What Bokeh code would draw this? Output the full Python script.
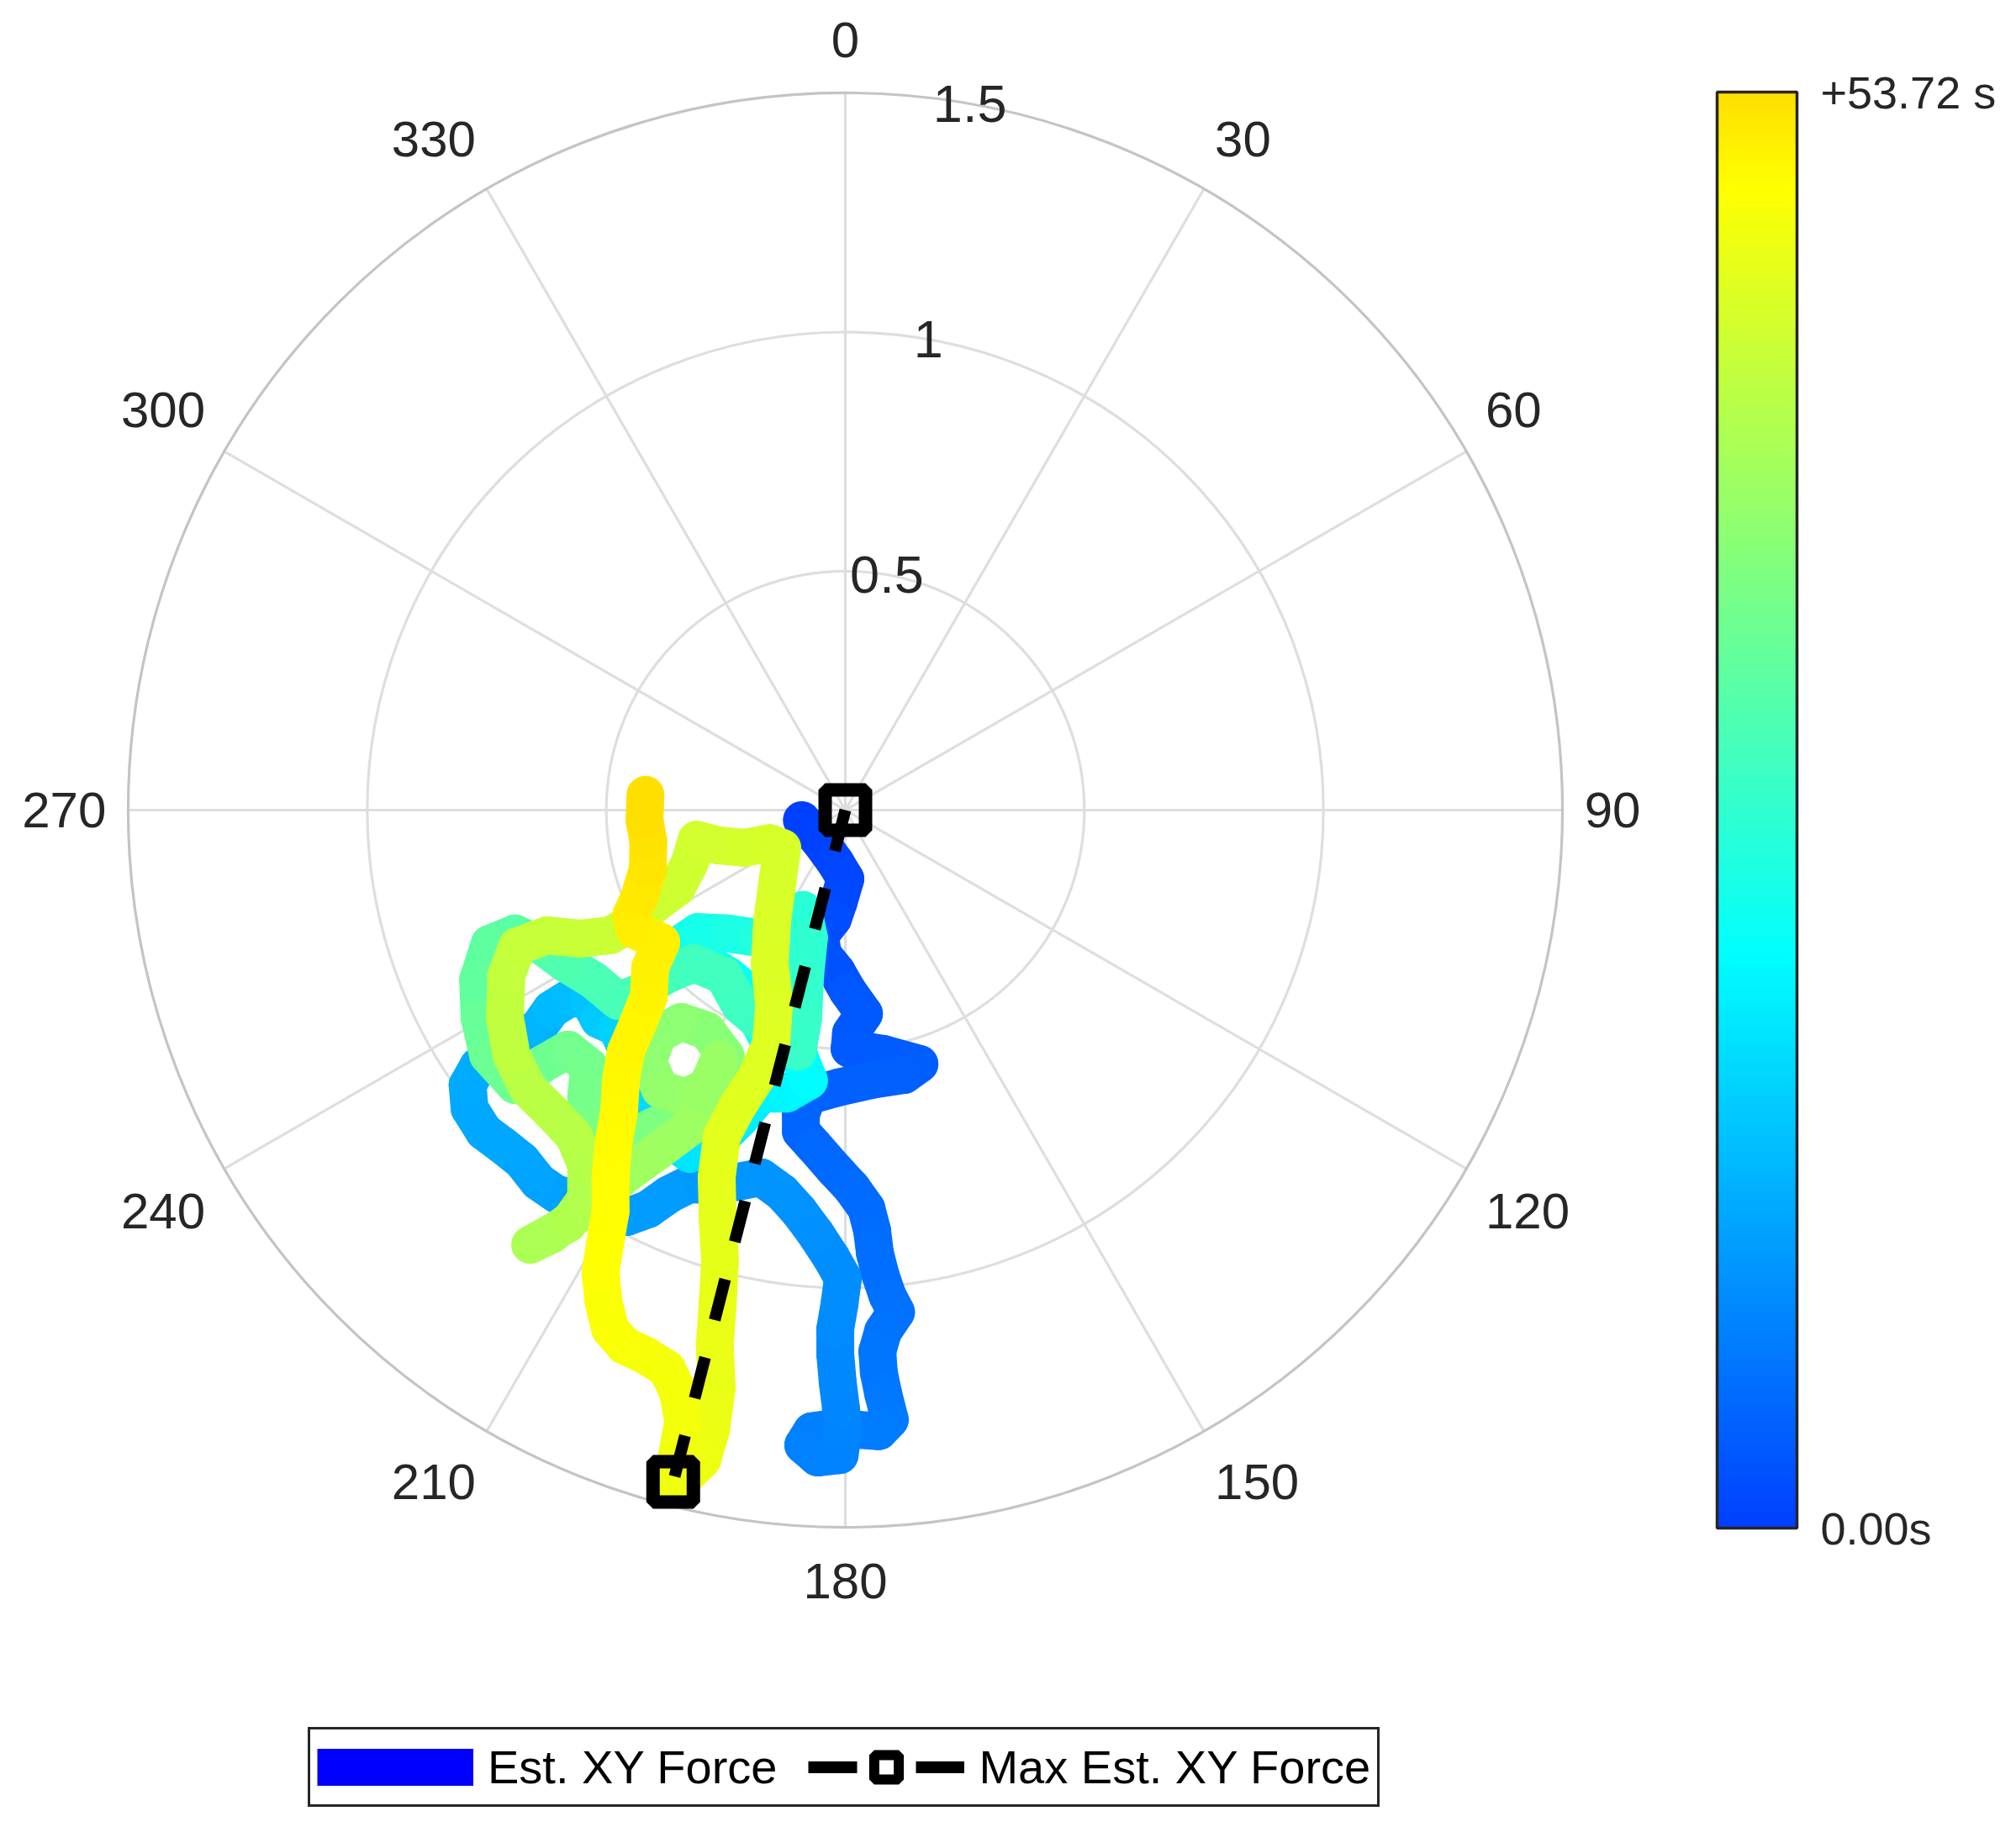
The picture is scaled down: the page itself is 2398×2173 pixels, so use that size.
import numpy as np
from bokeh.plotting import figure
from bokeh.models import (ColumnDataSource, LinearColorMapper, ColorBar, FixedTicker,
                          Legend, LegendItem, Range1d)
from bokeh.transform import linear_cmap
from bokeh.embed import file_html
from bokeh.resources import INLINE
from bokeh.core.properties import value

# ---------------- data ----------------
T_END = 53.72  # seconds

# elapsed fraction of the recording for each sample
time_frac = [
    0.000, 0.005, 0.010, 0.015, 0.020, 0.025, 0.030, 0.035, 0.040, 0.045,
    0.050, 0.053, 0.056, 0.060, 0.063, 0.066, 0.070, 0.072, 0.075, 0.078,
    0.080, 0.083, 0.086, 0.089, 0.092, 0.095, 0.098, 0.100, 0.103, 0.106,
    0.109, 0.112, 0.115, 0.118, 0.121, 0.124, 0.127, 0.130, 0.133, 0.136,
    0.139, 0.142,
    0.145, 0.148, 0.151, 0.154, 0.157, 0.160, 0.163, 0.166, 0.169, 0.172,
    0.175, 0.178, 0.181, 0.184, 0.187, 0.190, 0.193, 0.196, 0.199, 0.202,
    0.205, 0.208, 0.211, 0.214, 0.217, 0.220, 0.223, 0.226, 0.229, 0.232,
    0.240, 0.250, 0.260, 0.270, 0.280,
    0.300, 0.310, 0.320, 0.330, 0.340, 0.350, 0.360, 0.370, 0.380, 0.390,
    0.400, 0.405, 0.410, 0.415, 0.420, 0.425, 0.430,
    0.440, 0.450, 0.460, 0.470, 0.480, 0.490, 0.500, 0.510, 0.515, 0.520,
    0.525, 0.530, 0.535,
    0.540, 0.545, 0.550, 0.555, 0.560, 0.570, 0.580, 0.590, 0.600, 0.610,
    0.620, 0.625, 0.630, 0.635, 0.640, 0.645, 0.650, 0.655, 0.660,
    0.665, 0.670, 0.675, 0.680, 0.685, 0.690, 0.695, 0.700, 0.705, 0.710,
    0.715, 0.720,
    0.725, 0.730, 0.735, 0.740, 0.745, 0.750, 0.755, 0.765, 0.770, 0.775,
    0.780, 0.785, 0.790, 0.795, 0.800, 0.805, 0.810, 0.813, 0.816, 0.820,
    0.823, 0.826, 0.829, 0.832, 0.835, 0.838, 0.841, 0.844, 0.847, 0.850,
    0.853, 0.856, 0.859, 0.862, 0.865, 0.868, 0.871, 0.874, 0.877, 0.880,
    0.883, 0.886, 0.889, 0.892, 0.895, 0.898, 0.900,
    0.903, 0.906, 0.909, 0.912, 0.915, 0.918, 0.921, 0.924, 0.927, 0.930,
    0.933, 0.936, 0.939, 0.942, 0.945, 0.948, 0.951, 0.954, 0.957, 0.960,
    0.965, 0.970, 0.975, 0.982, 0.988, 0.994, 1.000,
]

# estimated XY force, east component (x) and north component (y)
force_x = [
    -0.091, -0.053, -0.021, 0.000, -0.014, -0.026, -0.053, -0.047, -0.018, 0.005,
    0.039, 0.012, 0.009, 0.079, 0.155, 0.123, 0.056, -0.014, -0.079, -0.093,
    -0.093, -0.065, -0.023, 0.014, 0.044, 0.056, 0.062, 0.074, 0.088, 0.106,
    0.079, 0.067, 0.070, 0.079, 0.093, 0.070, 0.026, -0.021, -0.070, -0.088,
    -0.058, -0.012,
    -0.004, -0.009, -0.016, -0.021, -0.021, -0.012, -0.005, -0.030, -0.062, -0.097,
    -0.132, -0.176, -0.223, -0.273, -0.325, -0.369, -0.413, -0.457, -0.505, -0.554,
    -0.603, -0.642, -0.677, -0.716, -0.756, -0.786, -0.790, -0.768, -0.726, -0.681,
    -0.642, -0.615, -0.575, -0.536, -0.515,
    -0.478, -0.440, -0.413, -0.378, -0.325, -0.273, -0.220, -0.176, -0.123, -0.076,
    -0.097, -0.158, -0.185, -0.202, -0.246, -0.308, -0.360,
    -0.308, -0.246, -0.185, -0.123, -0.088, -0.076, -0.084, -0.088, -0.100, -0.158,
    -0.220, -0.255, -0.317,
    -0.378, -0.431, -0.475, -0.528, -0.586, -0.633, -0.691, -0.744, -0.768, -0.765,
    -0.747, -0.691, -0.633, -0.580, -0.536, -0.542, -0.528, -0.466, -0.404,
    -0.343, -0.273, -0.237, -0.251, -0.290, -0.343, -0.392, -0.413, -0.387, -0.334,
    -0.281, -0.264,
    -0.325, -0.396, -0.457, -0.510, -0.563, -0.615, -0.659, -0.580, -0.542, -0.542,
    -0.568, -0.615, -0.663, -0.698, -0.712, -0.709, -0.686, -0.624, -0.554, -0.492,
    -0.448, -0.399, -0.352, -0.325, -0.311, -0.264, -0.211, -0.158, -0.132, -0.141,
    -0.153, -0.158, -0.149, -0.155, -0.185, -0.225, -0.258, -0.269, -0.267, -0.262,
    -0.267, -0.273, -0.269, -0.281, -0.299, -0.334, -0.360,
    -0.350, -0.339, -0.350, -0.373, -0.417, -0.462, -0.492, -0.506, -0.512, -0.503,
    -0.491, -0.491, -0.485, -0.473, -0.469, -0.459, -0.434, -0.411, -0.408, -0.385,
    -0.440, -0.448, -0.431, -0.413, -0.412, -0.420, -0.418,
]

force_y = [
    -0.021, -0.065, -0.109, -0.144, -0.192, -0.227, -0.262, -0.302, -0.338, -0.378,
    -0.426, -0.466, -0.499, -0.510, -0.531, -0.554, -0.564, -0.580, -0.598, -0.637,
    -0.672, -0.703, -0.751, -0.791, -0.833, -0.879, -0.927, -0.974, -1.015, -1.050,
    -1.090, -1.132, -1.176, -1.220, -1.275, -1.299, -1.296, -1.292, -1.299, -1.328,
    -1.354, -1.349,
    -1.296, -1.252, -1.196, -1.138, -1.085, -1.032, -0.979, -0.935, -0.886, -0.839,
    -0.800, -0.768, -0.777, -0.786, -0.782, -0.804, -0.835, -0.851, -0.839, -0.812,
    -0.804, -0.777, -0.733, -0.702, -0.672, -0.624, -0.575, -0.536, -0.508, -0.478,
    -0.455, -0.417, -0.392, -0.399, -0.438,
    -0.455, -0.540, -0.628, -0.681, -0.719, -0.698, -0.645, -0.593, -0.593, -0.566,
    -0.513, -0.487, -0.434, -0.382, -0.346, -0.308, -0.290,
    -0.255, -0.258, -0.267, -0.250, -0.209, -0.267, -0.346, -0.434, -0.505, -0.461,
    -0.408, -0.346, -0.320,
    -0.346, -0.382, -0.399, -0.355, -0.320, -0.285, -0.258, -0.280, -0.355, -0.434,
    -0.513, -0.575, -0.531, -0.501, -0.536, -0.601, -0.663, -0.698, -0.663,
    -0.637, -0.628, -0.575, -0.513, -0.461, -0.443, -0.469, -0.526, -0.584, -0.601,
    -0.575, -0.522,
    -0.663, -0.716, -0.760, -0.804, -0.848, -0.888, -0.909, -0.865, -0.812, -0.742,
    -0.681, -0.631, -0.584, -0.513, -0.434, -0.346, -0.285, -0.262, -0.269, -0.262,
    -0.237, -0.197, -0.162, -0.109, -0.062, -0.074, -0.079, -0.069, -0.079, -0.144,
    -0.232, -0.320, -0.408, -0.487, -0.557, -0.619, -0.681, -0.768, -0.856, -0.944,
    -1.032, -1.120, -1.208, -1.296, -1.358, -1.393, -1.405,
    -1.340, -1.278, -1.217, -1.169, -1.141, -1.120, -1.085, -1.027, -0.967, -0.909,
    -0.839, -0.768, -0.698, -0.628, -0.563, -0.505, -0.447, -0.390, -0.329, -0.276,
    -0.251, -0.220, -0.183, -0.123, -0.065, -0.021, 0.032,
]

r_ticks = [0.5, 1.0, 1.5]
r_tick_labels = ["0.5", "1", "1.5"]
theta_ticks = [0, 30, 60, 90, 120, 150, 180, 210, 240, 270, 300, 330]
cbar_labels = {0: "0.00s", T_END: "+53.72 s"}
legend_labels = ["Est. XY Force", "Max Est. XY Force"]

# ---------------- style / layout ----------------
FONT = "Liberation Sans"
TXT = "#262626"
W, H = 2390, 2165
SCALE = 568.7            # px per force unit
CX, CY = 1005, 963        # pole position in the canvas (px from left / top)
R_MAX = r_ticks[-1]
R_LABEL = 1.546
R_TICK_ANGLE = 10.0


def jet(v):
    r = np.clip(np.minimum(4 * v - 1.5, -4 * v + 4.5), 0, 1)
    g = np.clip(np.minimum(4 * v - 0.5, -4 * v + 3.5), 0, 1)
    b = np.clip(np.minimum(4 * v + 0.5, -4 * v + 2.5), 0, 1)
    return "#%02x%02x%02x" % (int(round(r * 255)), int(round(g * 255)), int(round(b * 255)))


palette = [jet(v) for v in np.linspace(0.1875, 0.656, 256)]

p = figure(width=W, height=H,
           x_range=Range1d(-CX / SCALE, (W - CX) / SCALE),
           y_range=Range1d(-(H - CY) / SCALE, CY / SCALE),
           x_axis_type=None, y_axis_type=None,
           toolbar_location=None, output_backend="svg",
           min_border=0, outline_line_color=None,
           background_fill_color="white", border_fill_color="white")

# polar grid
th = np.deg2rad(theta_ticks)
p.segment(x0=np.zeros(len(th)), y0=np.zeros(len(th)),
          x1=R_MAX * np.sin(th), y1=R_MAX * np.cos(th),
          line_color="#dedede", line_width=3.2)
p.circle(x=[0] * (len(r_ticks) - 1), y=[0] * (len(r_ticks) - 1), radius=r_ticks[:-1],
         fill_color=None, line_color="#dedede", line_width=3.2)
p.circle(x=[0], y=[0], radius=[R_MAX], fill_color=None, line_color="#c4c4c4", line_width=3.2)

# angle labels, anchored on the side facing the circle
groups = {}
for t in theta_ticks:
    s, c = np.sin(np.deg2rad(t)), np.cos(np.deg2rad(t))
    al = "left" if s > 1e-6 else ("right" if s < -1e-6 else "center")
    bl = "bottom" if c > 1e-6 else ("top" if c < -1e-6 else "middle")
    g = groups.setdefault((al, bl), dict(x=[], y=[], text=[]))
    g["x"].append(R_LABEL * s)
    g["y"].append(R_LABEL * c)
    g["text"].append(str(t))
for (al, bl), g in groups.items():
    dy = {"bottom": -16, "top": 17, "middle": 0}[bl]
    p.text(x=g["x"], y=g["y"], text=g["text"], text_align=al, text_baseline=bl,
           y_offset=dy, text_font=value(FONT), text_font_size="60px", text_color=TXT)

a = np.deg2rad(R_TICK_ANGLE)
p.text(x=np.array(r_ticks) * np.sin(a), y=np.array(r_ticks) * np.cos(a), text=r_tick_labels,
       text_align="center", text_baseline="middle", text_font=value(FONT),
       text_font_size="63px", text_color=TXT)

# trajectory, coloured by time
fx = np.array(force_x)
fy = np.array(force_y)
ts = np.array(time_frac) * T_END
seg = ColumnDataSource(dict(x0=fx[:-1], y0=fy[:-1], x1=fx[1:], y1=fy[1:],
                            t=(ts[:-1] + ts[1:]) / 2))
p.segment("x0", "y0", "x1", "y1", source=seg,
          line_color=linear_cmap("t", palette, 0, T_END),
          line_width=45, line_cap="round")

# maximum force
rr = np.hypot(fx, fy)
i = int(np.argmax(rr))
p.line(x=[0, fx[i]], y=[0, fy[i]], line_color="black", line_width=14, line_dash="50 46")
p.scatter(x=[0, fx[i]], y=[0, fy[i]], marker="square", size=48,
          fill_color=None, line_color="black", line_width=16)

# legend proxies (hidden; they only provide the legend glyphs)
leg_traj = p.line(x=[fx[i]], y=[fy[i]], line_color="#0000ff", line_width=44, visible=False)
leg_max_line = p.line(x=[fx[i]], y=[fy[i]], line_color="black", line_width=14,
                      line_dash="58 70", visible=False)
leg_max_mark = p.scatter(x=[fx[i]], y=[fy[i]], marker="square", size=48,
                         fill_color=None, line_color="black", line_width=12, visible=False)

legend = Legend(items=[LegendItem(label=legend_labels[0], renderers=[leg_traj]),
                       LegendItem(label=legend_labels[1], renderers=[leg_max_line, leg_max_mark])],
                location=(366, 16), orientation="horizontal",
                glyph_width=186, glyph_height=73, padding=8, spacing=37,
                label_standoff=17, label_text_font=FONT, label_text_font_size="56px",
                label_text_color="black", label_text_baseline="middle",
                border_line_color=TXT, border_line_width=3.5, border_line_alpha=1.0,
                background_fill_color="white", background_fill_alpha=1.0, margin=0)
p.add_layout(legend, "center")

cb = ColorBar(color_mapper=LinearColorMapper(palette=palette, low=0, high=T_END),
              ticker=FixedTicker(ticks=[0, T_END]),
              major_label_overrides=cbar_labels,
              orientation="vertical", width=95, height=1708,
              location=(2042, 348), padding=0, margin=0, label_standoff=28,
              major_tick_in=0, major_tick_out=0,
              major_tick_line_color=None, minor_tick_line_color=None,
              bar_line_color=TXT, bar_line_width=3.5, bar_line_alpha=1.0,
              major_label_text_font=FONT, major_label_text_font_size="54px",
              major_label_text_color=TXT,
              background_fill_alpha=0, border_line_color=None)
p.add_layout(cb, "center")

open("out.html", "w").write(file_html(p, INLINE))
